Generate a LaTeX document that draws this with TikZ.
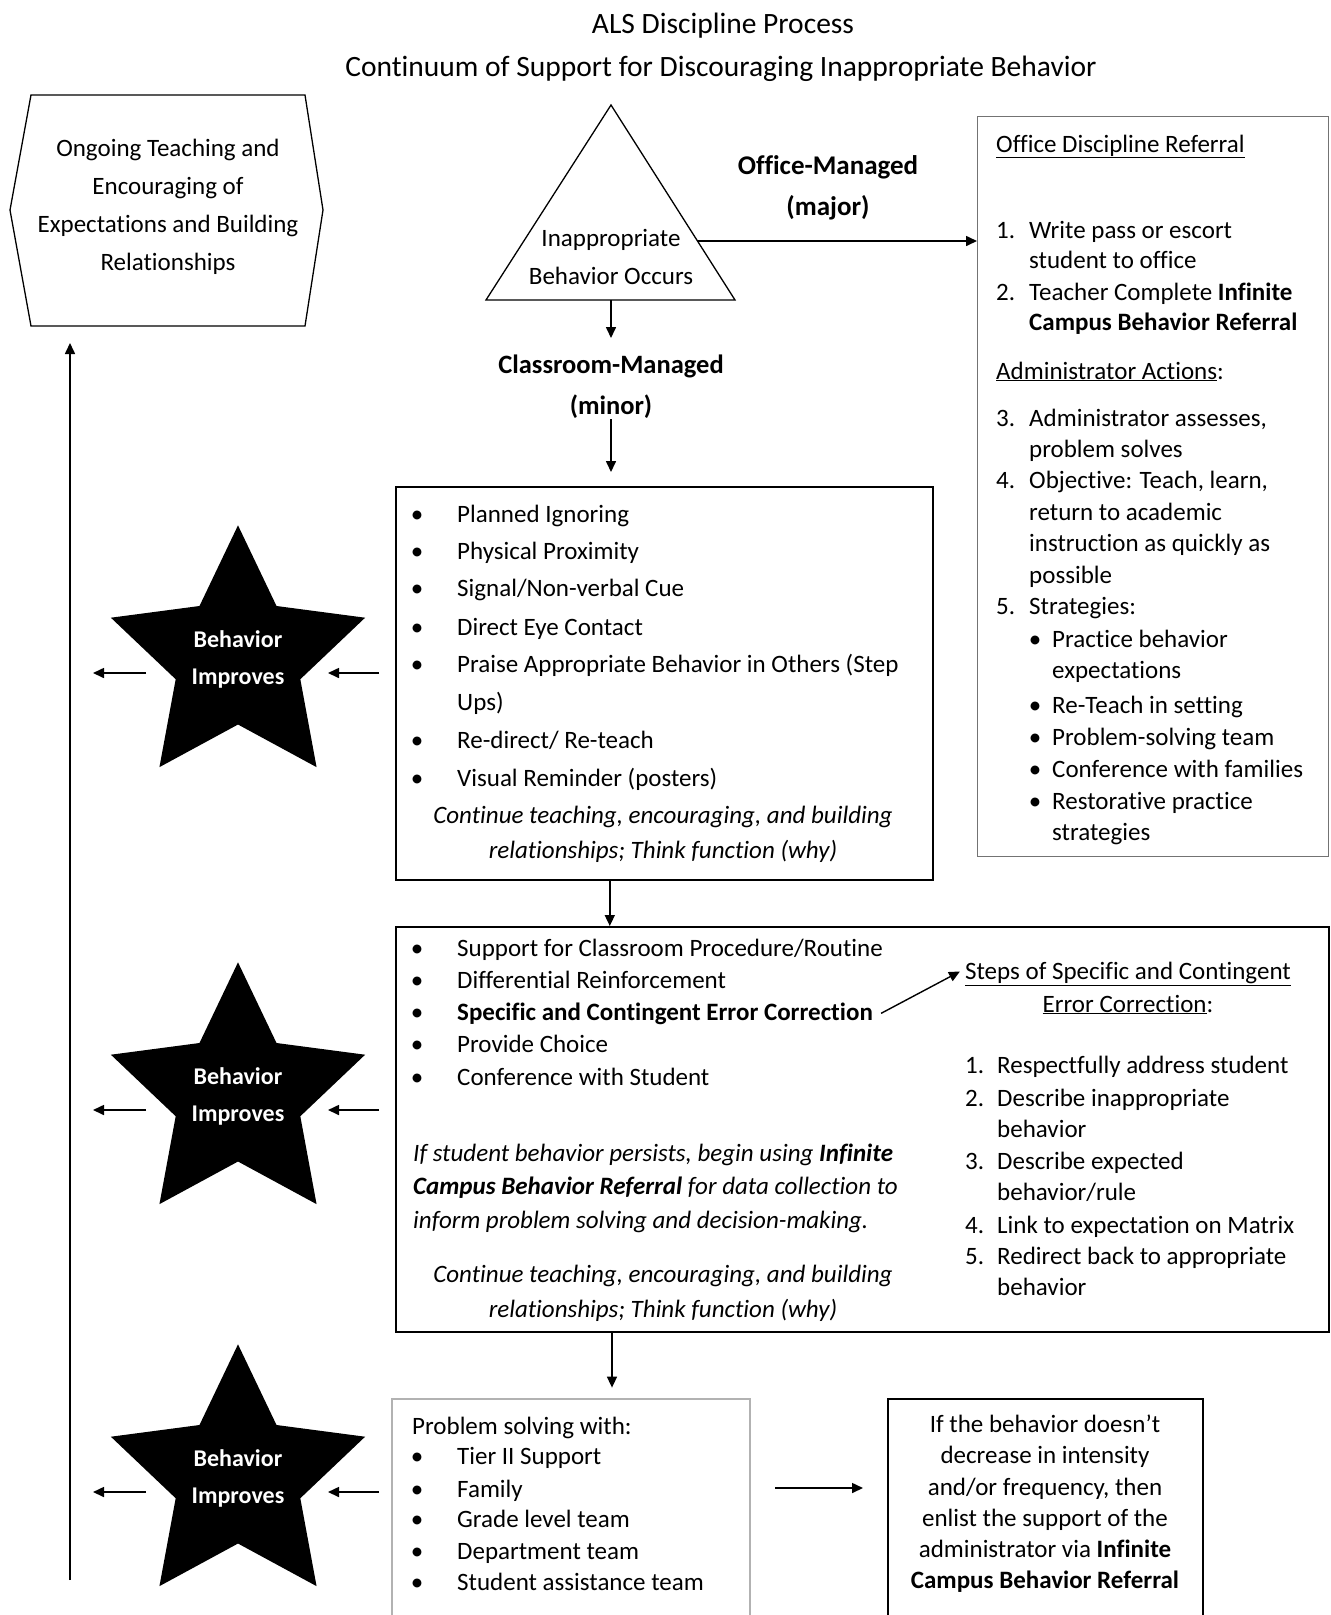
\documentclass[tikz,border=0pt]{standalone}
\usepackage{fontspec}
\setmainfont{Carlito}[Ligatures=NoCommon]
\usetikzlibrary{arrows.meta,shapes.geometric,calc}
\tikzset{
  tx/.style={inner sep=0, anchor=base west, font=\fontsize{25}{31}\selectfont},
  txc/.style={inner sep=0, anchor=base, font=\fontsize{25}{31}\selectfont},
  bul/.style={inner sep=0, anchor=base, font=\fontsize{25}{31}\selectfont},
  ctext/.style={inner sep=0, anchor=center, align=center},
  ttl/.style={inner sep=0, anchor=base, font=\fontsize{29.5}{35}\selectfont},
  arr/.style={-{Triangle[length=11pt,width=10pt]}, line width=1.6pt},
  boxx/.style={draw, line width=1.6pt, anchor=north west, inner sep=0},
  bstar/.style={star, star points=5, star point ratio=2.04, minimum size=256pt,
    fill=black, inner sep=0, text=white, align=center,
    font=\fontsize{24}{37}\selectfont\bfseries},
}
\begin{document}
\begin{tikzpicture}[x=1pt,y=-1pt]
\useasboundingbox (0,0) rectangle (1331,1615);
\clip (0,0) rectangle (1331,1615);
\fill[white] (0,0) rectangle (1331,1615);

% titles
\node[ttl] (t1) at (723,33) {ALS Discipline Process};
\node[ttl] (t2) at (721,76) {Continuum of Support for Discouraging Inappropriate Behavior};

% hexagon
\draw[line width=1.3pt] (31,95) -- (305,95) -- (323,210) -- (305,326) -- (31,326) -- (10,210) -- cycle;
\node[ctext, font=\fontsize{25}{38}\selectfont] (hex) at (168,207)
  {Ongoing Teaching and\\Encouraging of\\Expectations and Building\\Relationships};

% triangle
\coordinate (tapex) at (611,105);
\coordinate (tbl) at (486,300);
\coordinate (tbr) at (735,300);
\coordinate (tbase) at (611,300);
\coordinate (tr) at (697.5,241);
\draw[line width=1.3pt] (tapex) -- (tbr) -- (tbl) -- cycle;
\node[ctext, font=\fontsize{25}{38}\selectfont] (tri) at (611,257) {Inappropriate\\Behavior Occurs};

% labels
\node[ctext, font=\fontsize{27}{41}\selectfont\bfseries] (om) at (828,188) {Office-Managed\\(major)};
\node[ctext, font=\fontsize{26.5}{41}\selectfont\bfseries] (cm) at (611,387) {Classroom-Managed\\(minor)};

% boxes
\node[boxx, draw=black!55, line width=1.3pt, minimum width=351pt, minimum height=740pt] (office) at (977,116) {};
\node[boxx, minimum width=537pt, minimum height=393pt] (box1) at (395,486) {};
\node[boxx, minimum width=933pt, minimum height=405pt] (box2) at (395,926) {};
\node[boxx, draw=black!30, minimum width=358pt, minimum height=300pt] (box3) at (391,1398) {};
\node[boxx, minimum width=315pt, minimum height=300pt] (box4) at (887,1398) {};

% connectors (top part)
\draw[arr] (tr) -- (tr -| office.west);
\draw[arr] (tbase) -- ++(0,38);
\draw[arr] (cm.south) -- ([yshift=14pt]box1.north -| cm.south);
\coordinate (a12) at ([xshift=-54.5pt]box1.south);
\draw[arr] (a12) -- (a12 |- box2.north);
\coordinate (a23) at ([xshift=217pt]box2.south west);
\draw[arr] (a23) -- ++(0,55);
\coordinate (a34) at (775,1488);
\draw[arr] (a34) -- ++(88,0);

% office box text
\foreach \x/\y/\lbl [count=\i] in {
  996/152/{\underline{Office Discipline Referral}},
  996/238/{1.}, 1029/238/{Write pass or escort},
  1029/268/{student to office},
  996/300/{2.}, 1029/300/{Teacher Complete \textbf{Infinite}},
  1029/330/{\textbf{Campus Behavior Referral}},
  996/379/{\underline{Administrator Actions}:},
  996/426/{3.}, 1029/426/{Administrator assesses,},
  1029/457/{problem solves},
  996/488/{4.}, 1029/488/{Objective: Teach, learn,},
  1029/520/{return to academic},
  1029/551/{instruction as quickly as},
  1029/583/{possible},
  996/614/{5.}, 1029/614/{Strategies:},
  1052/647/{Practice behavior},
  1052/678/{expectations},
  1052/713/{Re-Teach in setting},
  1052/745/{Problem-solving team},
  1052/777/{Conference with families},
  1052/809/{Restorative practice},
  1052/840/{strategies}}
  \node[tx] (of\i) at (\x,\y) {\lbl};
\foreach \y [count=\i] in {647,713,745,777,809}
  \node[bul] (ofb\i) at (1035,\y) {\textbullet};

% box 1 text
\foreach \y/\lbl [count=\i] in {522/{Planned Ignoring}, 559/{Physical Proximity},
  596/{Signal/Non-verbal Cue}, 635/{Direct Eye Contact},
  672/{Praise Appropriate Behavior in Others (Step}, 710/{Ups)},
  748/{Re-direct/ Re-teach}, 786/{Visual Reminder (posters)}}
  \node[tx] (bA\i) at (457,\y) {\lbl};
\foreach \y [count=\i] in {522,559,596,635,672,748,786}
  \node[bul] (bAb\i) at (417,\y) {\textbullet};
\node[txc, font=\fontsize{25}{31}\selectfont\itshape] (bAi1) at (663,823) {Continue teaching, encouraging, and building};
\node[txc, font=\fontsize{25}{31}\selectfont\itshape] (bAi2) at (663,858) {relationships; Think function (why)};

% box 2 text
\foreach \y/\lbl [count=\i] in {956/{Support for Classroom Procedure/Routine},
  988/{Differential Reinforcement},
  1020/{\textbf{Specific and Contingent Error Correction}},
  1052/{Provide Choice}, 1085/{Conference with Student}}
  \node[tx] (bB\i) at (457,\y) {\lbl};
\foreach \y [count=\i] in {956,988,1020,1052,1085}
  \node[bul] (bBb\i) at (417,\y) {\textbullet};
\node[tx, font=\fontsize{25}{31}\selectfont\itshape] (bBp1) at (413,1161) {If student behavior persists, begin using \textbf{Infinite}};
\node[tx, font=\fontsize{25}{31}\selectfont\itshape] (bBp2) at (413,1194) {\textbf{Campus Behavior Referral} for data collection to};
\node[tx, font=\fontsize{25}{31}\selectfont\itshape] (bBp3) at (413,1228) {inform problem solving and decision-making.};
\node[txc, font=\fontsize{25}{31}\selectfont\itshape] (bBi1) at (663,1282) {Continue teaching, encouraging, and building};
\node[txc, font=\fontsize{25}{31}\selectfont\itshape] (bBi2) at (663,1317) {relationships; Think function (why)};

\node[txc] (st1) at (1128,979) {\underline{Steps of Specific and Contingent}};
\node[txc] (st2) at (1128,1012) {\underline{Error Correction}:};
\draw[arr, line width=1.4pt] ([xshift=8pt]bB3.east) -- ([xshift=-5pt,yshift=2pt]st1.west);

\foreach \x/\y/\lbl [count=\i] in {
  965/1073/{1.}, 997/1073/{Respectfully address student},
  965/1106/{2.}, 997/1106/{Describe inappropriate},
  997/1137/{behavior},
  965/1169/{3.}, 997/1169/{Describe expected},
  997/1200/{behavior/rule},
  965/1233/{4.}, 997/1233/{Link to expectation on Matrix},
  965/1264/{5.}, 997/1264/{Redirect back to appropriate},
  997/1295/{behavior}}
  \node[tx] (sc\i) at (\x,\y) {\lbl};

% box 3 text
\node[tx] (bC0) at (412,1434) {Problem solving with:};
\foreach \y/\lbl [count=\i] in {1464/{Tier II Support}, 1497/{Family},
  1527/{Grade level team}, 1559/{Department team}, 1590/{Student assistance team}}
  \node[tx] (bC\i) at (457,\y) {\lbl};
\foreach \y [count=\i] in {1464,1497,1527,1559,1590}
  \node[bul] (bCb\i) at (417,\y) {\textbullet};

% box 4 text
\foreach \y/\lbl [count=\i] in {1432/{If the behavior doesn’t}, 1463/{decrease in intensity},
  1495/{and/or frequency, then}, 1526/{enlist the support of the},
  1557/{administrator via \textbf{Infinite}}, 1588/{\textbf{Campus Behavior Referral}}}
  \node[txc] (bD\i) at (1045,\y) {\lbl};

% stars
\node[bstar] (s1) at (238,659) {Behavior\\Improves};
\node[bstar] (s2) at (238,1096) {Behavior\\Improves};
\node[bstar] (s3) at (238,1478) {Behavior\\Improves};
\foreach \s in {s1,s2,s3}{
  \draw[arr] ([xshift=141pt,yshift=-14pt]\s.center) -- ++(-51,0);
  \draw[arr] ([xshift=-92pt,yshift=-14pt]\s.center) -- ++(-53,0);
}

% long return arrow
\coordinate (lb) at (70,1580);
\coordinate (lt) at (70,343);
\draw[arr] (lb) -- (lt);
\end{tikzpicture}
\end{document}
